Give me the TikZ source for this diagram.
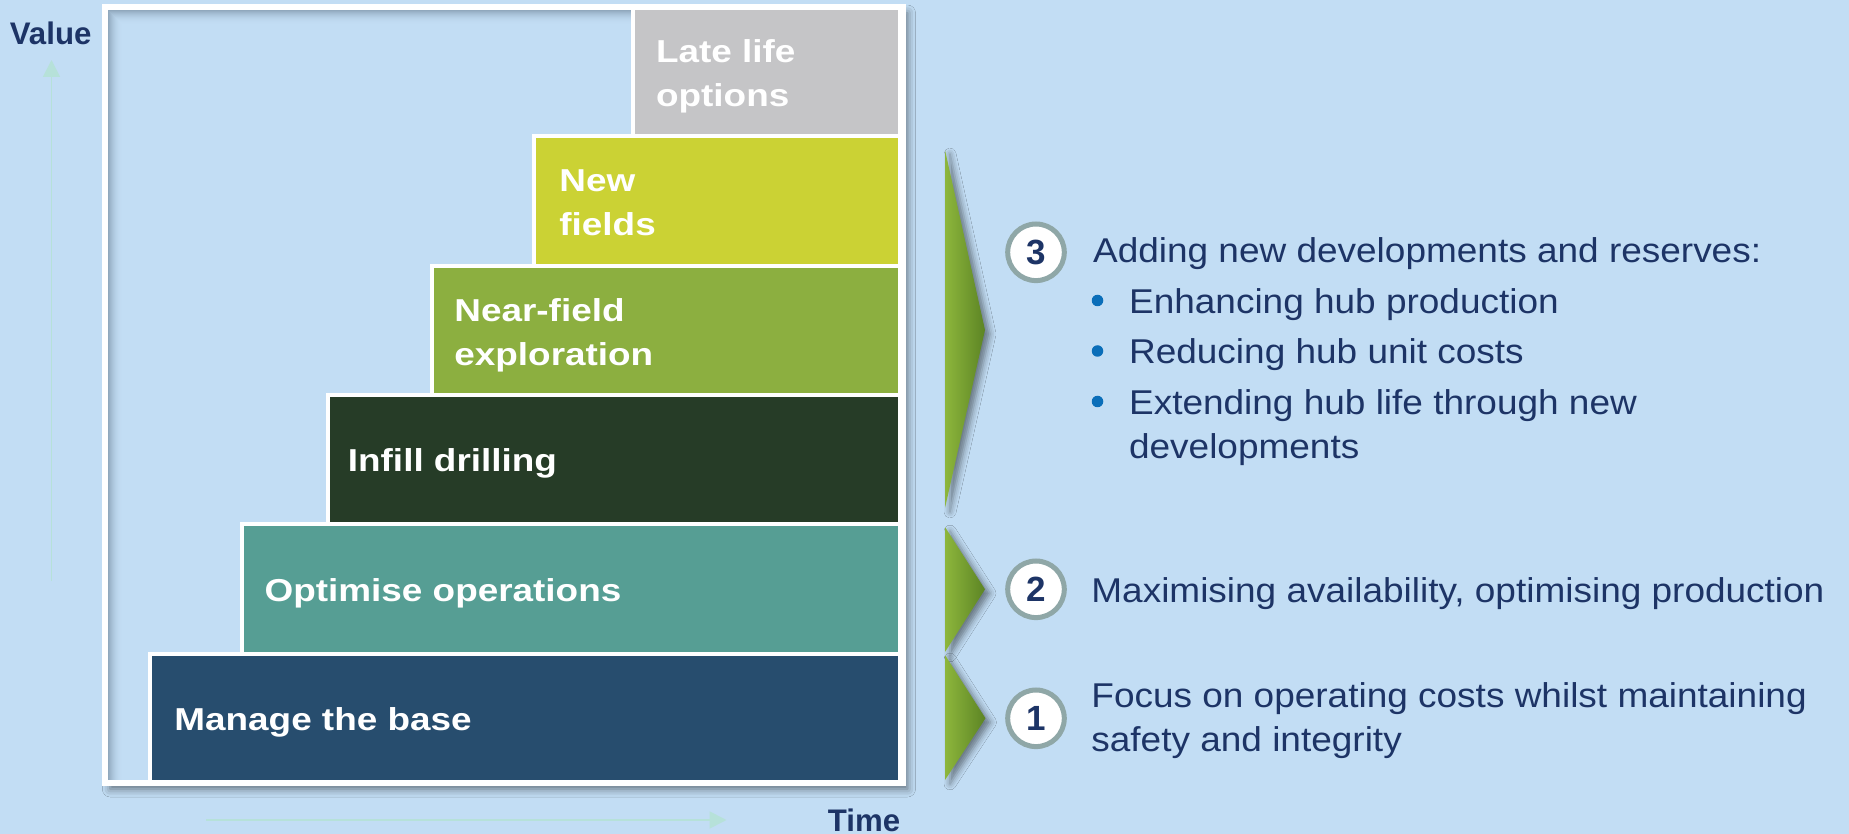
\documentclass[tikz,border=0pt]{standalone}
\usepackage{fontspec}
\setmainfont{Liberation Sans}
% widened faces for the step labels and the notes on the right
\newfontfamily\labelfont[FakeStretch=1.164]{Liberation Sans}
\newfontfamily\notefont[FakeStretch=1.075]{Liberation Sans}
\usetikzlibrary{arrows.meta,shadows.blur}

\definecolor{bg}{HTML}{C2DDF4}
\definecolor{navy}{HTML}{1D3466}
\definecolor{manage}{HTML}{274D6E}
\definecolor{optimise}{HTML}{569E94}
\definecolor{infill}{HTML}{263C27}
\definecolor{nearfield}{HTML}{8CAF40}
\definecolor{newfields}{HTML}{CBD234}
\definecolor{latelife}{HTML}{C5C5C7}
\definecolor{ring}{HTML}{8FA7A7}
\definecolor{bulletblue}{HTML}{0A6EB9}
\definecolor{axis}{HTML}{B6E1D9}
\definecolor{arrowlight}{HTML}{8DB63C}
\definecolor{arrowdark}{HTML}{5C8424}
\definecolor{innershade}{HTML}{6F8699}

% fixed first-line heights so that the top anchor sits a known distance above the baseline
\newcommand{\labelstrut}{\rule{0pt}{14.3pt}}
\newcommand{\notestrut}{\rule{0pt}{15.5pt}}

\begin{document}
\begin{tikzpicture}[x=0.5pt,y=-0.5pt,
  stepbox/.style={draw=white, line width=2pt},
  steplabel/.style={anchor=north west, inner sep=0pt, align=left, text=white,
    font=\labelfont\bfseries\fontsize{15.85pt}{22pt}\selectfont},
  note/.style={anchor=north west, inner sep=0pt, align=left, text=navy,
    font=\notefont\fontsize{17.2pt}{22pt}\selectfont},
  badge/.style={circle, draw=ring, line width=2.5pt, fill=white, minimum size=28.3pt,
    inner sep=0pt, text=navy, font=\bfseries\fontsize{17.5pt}{20pt}\selectfont},
  chevron/.style={left color=arrowlight, right color=arrowdark,
    blur shadow={shadow xshift=2.5pt, shadow yshift=-2pt, shadow blur radius=3pt, shadow opacity=45}},
  dot/.style={circle, fill=bulletblue, minimum size=5.75pt, inner sep=0pt},
  axisarrow/.style={draw=axis, line width=0.9pt, -{Triangle[width=8.5pt,length=8.5pt]}},
  axislabel/.style={inner sep=0pt, text=navy, font=\bfseries\fontsize{15.6pt}{18pt}\selectfont}
]
\useasboundingbox (0,0) rectangle (1849,834);
\fill[bg] (0,0) rectangle (1849,834);

% axes
\coordinate (vfoot) at (51.5,581);
\coordinate (vtip) at (51.5,60);
\draw[axisarrow] (vfoot) -- (vtip);
\coordinate (tfoot) at (206,820);
\coordinate (ttip) at (726.5,820);
\draw[axisarrow] (tfoot) -- (ttip);
\node[axislabel, anchor=base west] (value) at (9.5,45) {Value};
\node[axislabel, anchor=base east] (time) at (900.5,831) {Time};

% frame with its drop shadow and soft inner shadow
\path[fill=bg, blur shadow={shadow xshift=2.5pt, shadow yshift=-3pt, shadow blur radius=4pt, shadow opacity=50}]
  (105.3,7) rectangle (902.5,783);
\foreach \i in {0,...,13} {
  \pgfmathsetmacro\op{0.6*(1-\i/14)^2}
  \draw[innershade, opacity=\op, line width=0.5pt] (108.5+\i,10+\i) -- (108.5+\i,783);
  \draw[innershade, opacity=\op, line width=0.5pt] (109+\i,10.5+\i) -- (902,10.5+\i);
}

% staircase of steps
\path[stepbox, fill=latelife]  (632.5,7)     rectangle (900,136.3);
\path[stepbox, fill=newfields] (533.5,136.3) rectangle (900,265.7);
\path[stepbox, fill=nearfield] (431.5,265.7) rectangle (900,395);
\path[stepbox, fill=infill]    (327.5,395)   rectangle (900,524.3);
\path[stepbox, fill=optimise]  (241.5,524.3) rectangle (900,653.7);
\path[stepbox, fill=manage]    (150.3,653.7) rectangle (900,783);
\draw[white, line width=3pt] (105.3,7) rectangle (902.5,783);

\node[steplabel] (late)   at (655.7,33.4)  {\labelstrut Late life\\options};
\node[steplabel] (new)    at (559,162.4)   {\labelstrut New\\fields};
\node[steplabel] (near)   at (454,292.4)   {\labelstrut Near-field\\exploration};
\node[steplabel] (infill) at (347.5,442.4) {\labelstrut Infill drilling};
\node[steplabel] (opt)    at (264.2,572.9) {\labelstrut Optimise operations};
\node[steplabel] (manage) at (174,701.4)   {\labelstrut Manage the base};

% chevrons
\path[chevron] (945,150) -- (985,330) -- (945,508) -- cycle;
\path[chevron] (945,527) -- (985,589.3) -- (945,652) -- cycle;
\path[chevron] (945,655) -- (985.5,718.3) -- (945,780) -- cycle;

% numbered badges
\node[badge] (n3) at (1036,252.3) {3};
\node[badge] (n2) at (1036,589.3) {2};
\node[badge] (n1) at (1036,718.3) {1};

% notes
\node[note] (note3) at (1092.7,231.3) {\notestrut Adding new developments and reserves:\\[3.25pt]
  \hspace*{18pt}Enhancing hub production\\[3.25pt]
  \hspace*{18pt}Reducing hub unit costs\\[3.25pt]
  \hspace*{18pt}Extending hub life through new\\
  \hspace*{18pt}developments};
\node[dot] (d1) at (1097.5,300.5) {};
\node[dot] (d2) at (1097.5,351) {};
\node[dot] (d3) at (1097.5,401.5) {};
\node[note] (note2) at (1091,570.7) {\notestrut Maximising availability, optimising production};
\node[note] (note1) at (1091,675.7) {\notestrut Focus on operating costs whilst maintaining\\safety and integrity};
\end{tikzpicture}
\end{document}
